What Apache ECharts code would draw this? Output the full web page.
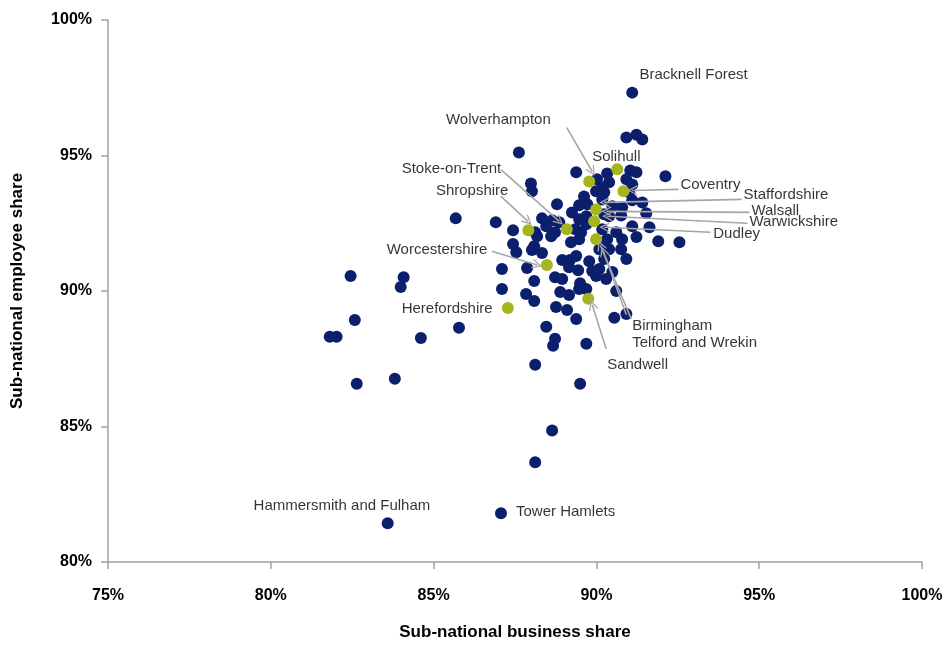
<!DOCTYPE html>
<html>
<head>
<meta charset="utf-8">
<script src="https://cdn.jsdelivr.net/npm/echarts@6/dist/echarts.min.js"></script>
<style>html,body{margin:0;padding:0;background:#fff}#c{width:949px;height:646px}</style>
</head>
<body>
<div id="c"></div>
<script>
// Local authorities outside the West Midlands (business share %, employee share %)
const otherX = [91.10,90.92,91.23,91.41,87.62,89.38,91.04,91.23,92.12,90.02,90.33,90.39,90.18,90.92,91.10,91.01,87.99,88.02,89.99,90.24,89.62,89.47,89.72,88.79,90.49,90.79,91.10,91.41,86.91,88.33,88.64,89.25,89.47,89.69,90.39,90.76,91.53,87.44,88.12,88.46,88.61,89.35,89.47,89.22,90.33,90.61,90.79,91.10,91.23,91.63,91.90,92.55,87.44,88.09,90.39,85.68,87.54,88.02,88.33,89.69,89.53,90.76,87.10,87.10,87.87,88.09,87.84,88.09,88.95,89.19,89.38,89.16,89.44,88.73,88.95,89.78,89.87,90.24,90.92,90.09,90.49,90.30,89.99,89.50,89.69,90.61,88.89,89.16,89.47,88.76,89.10,89.38,90.55,90.92,88.46,88.73,88.67,89.69,88.12,89.50,88.64,88.12,87.07,83.59,82.45,84.08,83.99,82.58,81.81,82.02,84.61,85.78,82.64,83.81,90.09,88.86,88.18,88.73,90.18,90.24,90.18,90.24];
const otherY = [97.32,95.66,95.77,95.59,95.11,94.38,94.45,94.38,94.23,94.12,94.34,94.01,93.82,94.12,93.93,93.64,93.97,93.68,93.68,93.64,93.49,93.16,93.20,93.20,93.13,93.09,93.35,93.27,92.54,92.68,92.61,92.90,92.65,92.76,92.76,92.79,92.87,92.24,92.17,92.39,92.02,92.28,91.91,91.80,91.91,92.17,91.91,92.39,91.99,92.35,91.84,91.80,91.73,91.65,91.54,92.68,91.43,91.51,91.40,92.46,92.17,91.54,90.81,90.07,90.85,90.37,89.89,89.63,91.14,91.14,91.29,90.88,90.77,90.51,90.44,91.10,90.74,91.18,91.18,90.81,90.70,90.44,90.55,90.29,90.07,90.00,89.96,89.85,90.07,89.41,89.30,88.97,89.01,89.15,88.68,88.24,87.98,88.05,87.28,86.58,84.85,83.68,81.80,81.43,90.55,90.51,90.15,88.93,88.31,88.31,88.27,88.64,86.58,86.76,91.54,92.54,92.02,92.17,93.38,92.83,92.28,91.73];

// West Midlands local authorities
const wmX = [87.28,88.48,89.75,87.91,89.09,90.64,89.78,90.83,89.99,89.93,89.99];
const wmY = [89.37,90.96,89.71,92.24,92.28,94.49,94.04,93.68,93.01,92.57,91.91];

// Annotation text and its anchor (left edge, middle) in axis units
const labelNames = ['Bracknell Forest','Wolverhampton','Solihull','Stoke-on-Trent','Shropshire','Coventry','Staffordshire','Walsall','Warwickshire','Dudley','Worcestershire','Herefordshire','Birmingham','Telford and Wrekin','Sandwell','Hammersmith and Fulham','Tower Hamlets'];
const labelX = [91.32,85.38,89.87,84.02,85.07,92.58,94.52,94.76,94.70,93.59,83.56,84.02,91.10,91.10,90.33,79.47,87.53];
const labelY = [97.98,96.32,94.96,94.52,93.71,93.90,93.53,92.94,92.54,92.10,91.51,89.34,88.71,88.09,87.28,82.06,81.84];

// Leader arrows: from (x0,y0) to (x1,y1) in axis units
const arrowX0 = [89.09,87.07,87.07,92.52,94.46,94.70,94.64,93.50,86.79,91.07,90.92,90.30];
const arrowY0 = [96.03,94.48,93.49,93.75,93.38,92.90,92.50,92.17,91.47,88.97,89.12,87.87];
const arrowX1 = [89.87,88.86,87.90,91.10,90.24,90.30,90.33,90.24,88.18,90.12,90.21,89.87];
const arrowY1 = [94.41,92.57,92.57,93.71,93.27,92.94,92.76,92.35,90.96,91.69,91.47,89.49];

const zip = (a, b) => a.map((v, i) => [v, b[i]]);
const chevron = 'path://M0,10 L5,0 L10,10 L8.6,10 L5,2.8 L1.4,10 Z';

const chart = echarts.init(document.getElementById('c'), null, {renderer: 'canvas'});
const axisFont = {fontFamily: 'Liberation Sans', fontWeight: 'bold', fontSize: 16, color: '#000'};
chart.setOption({
  animation: false,
  grid: {left: 108, right: 27, top: 20, bottom: 82},
  xAxis: {
    type: 'value', min: 75, max: 100, interval: 5,
    name: 'Sub-national business share', nameLocation: 'middle', nameGap: 62,
    nameTextStyle: {fontFamily: 'Liberation Sans', fontWeight: 'bold', fontSize: 17, color: '#000'},
    axisLine: {show: true, lineStyle: {color: '#a0a0a0', width: 1.5}},
    axisTick: {show: true, length: 7, lineStyle: {color: '#a0a0a0', width: 1.5}},
    axisLabel: Object.assign({margin: 26, formatter: '{value}%'}, axisFont),
    splitLine: {show: false}
  },
  yAxis: {
    type: 'value', min: 80, max: 100, interval: 5,
    name: 'Sub-national employee share', nameLocation: 'middle', nameGap: 82,
    nameTextStyle: {fontFamily: 'Liberation Sans', fontWeight: 'bold', fontSize: 17, color: '#000'},
    axisLine: {show: true, lineStyle: {color: '#a0a0a0', width: 1.5}},
    axisTick: {show: true, length: 7, lineStyle: {color: '#a0a0a0', width: 1.5}},
    axisLabel: Object.assign({margin: 16, formatter: '{value}%'}, axisFont),
    splitLine: {show: false}
  },
  series: [
    {
      type: 'scatter', name: 'Other', symbolSize: 12,
      itemStyle: {color: '#0c1f6d', opacity: 1},
      data: zip(otherX, otherY), z: 2
    },
    {
      type: 'scatter', name: 'West Midlands', symbolSize: 12,
      itemStyle: {color: '#a4b51d', opacity: 1},
      data: zip(wmX, wmY), z: 3
    },
    {
      type: 'scatter', name: 'labels', symbolSize: 0, silent: true, z: 4,
      data: labelNames.map((n, i) => ({name: n, value: [labelX[i], labelY[i]]})),
      label: {show: true, position: 'right', distance: 0, formatter: '{b}',
        fontFamily: 'Liberation Sans', fontSize: 15, color: '#000'},
      markLine: {
        silent: true, animation: false,
        symbol: ['none', chevron], symbolSize: [10, 10],
        lineStyle: {color: '#a6a6a6', width: 1.6, type: 'solid'},
        label: {show: false},
        data: arrowX0.map((v, i) => [{coord: [v, arrowY0[i]]}, {coord: [arrowX1[i], arrowY1[i]]}])
      }
    }
  ]
});
</script>
</body>
</html>
